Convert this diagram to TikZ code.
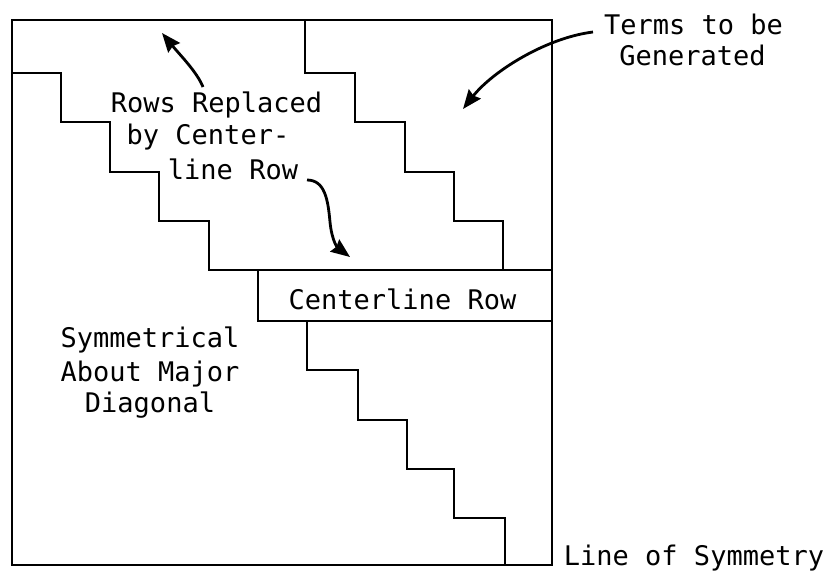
\documentclass[tikz,border=0pt]{standalone}
\usepackage{fontspec}
\setmonofont{DejaVu Sans Mono}
\usetikzlibrary{arrows.meta}
\tikzset{
  frame/.style={line width=2.6pt},
  lbl/.style={font=\ttfamily\fontsize{27}{33}\selectfont, anchor=base, inner sep=0pt},
  arr/.style={line width=2.8pt, -{Stealth[length=19pt,width=15pt,inset=2pt]}}
}
\begin{document}
\begin{tikzpicture}[x=1pt,y=-1pt]
\useasboundingbox (0,0) rectangle (834,584);
% outer square
\draw[frame] (12,20) rectangle (552,565);
% upper-left staircase and top of centerline row
\draw[frame] (12,73) -- (61,73) -- (61,122) -- (110,122) -- (110,172) -- (159,172)
  -- (159,221) -- (209,221) -- (209,270) -- (552,270);
% upper-right staircase
\draw[frame] (305,20) -- (305,73) -- (355,73) -- (355,122) -- (405,122) -- (405,172)
  -- (454,172) -- (454,221) -- (503,221) -- (503,270);
% centerline row box
\draw[frame] (258,270) -- (258,321) -- (552,321);
% lower staircase
\draw[frame] (307,321) -- (307,370) -- (358,370) -- (358,420) -- (407,420) -- (407,469)
  -- (454,469) -- (454,518) -- (505,518) -- (505,565);
% labels
\node[lbl] (terms1) at (693.5,34) {Terms to be};
\node[lbl] (terms2) at (692.5,65) {Generated};
\node[lbl] (rows1) at (216.5,112) {Rows Replaced};
\node[lbl] (rows2) at (208,144) {by Center-};
\node[lbl] (rows3) at (233,179) {line Row};
\node[lbl] (center) at (402.5,309) {Centerline Row};
\node[lbl] (sym1) at (150,347) {Symmetrical};
\node[lbl] (sym2) at (150,381) {About Major};
\node[lbl] (sym3) at (150,412) {Diagonal};
\node[lbl] (los) at (694,565) {Line of Symmetry};
% arrow end points
\coordinate (tA) at (593,32);
\coordinate (tB) at (463,109);
\coordinate (uA) at (203,87);
\coordinate (uB) at (162,33);
\coordinate (dA) at (307,180);
\coordinate (dM) at (330,222);
\coordinate (dB) at (350,257);
% arrows
\draw[arr] (tA) .. controls (545,38) and (492,72) .. (tB);
\draw[arr] (uA) .. controls (197,72) and (180,55) .. (uB);
\draw[arr] (dA) .. controls (325,180) and (328,200) .. (dM) .. controls (332,242) and (338,248) .. (dB);
\end{tikzpicture}
\end{document}
